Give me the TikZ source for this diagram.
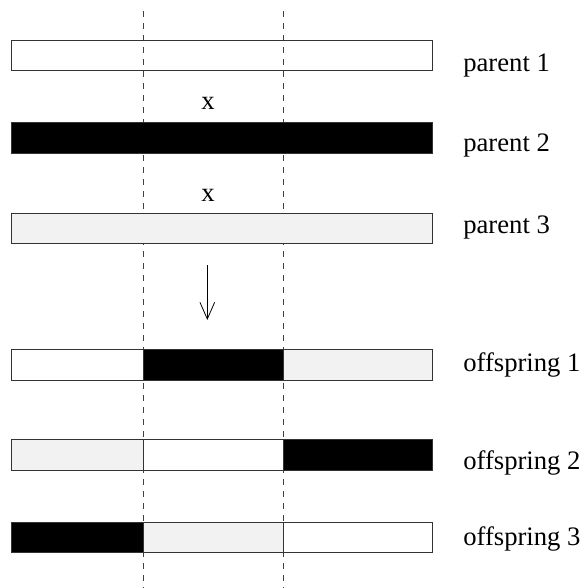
\documentclass[tikz,border=0pt]{standalone}
\usepackage{fontspec}
\setmainfont{Liberation Serif}
\usetikzlibrary{positioning, arrows.meta}

\begin{document}
\begin{tikzpicture}[x=0.75pt,y=-0.75pt,font=\fontsize{20}{24}\selectfont,
  bar/.style={draw=black!80,line width=0.75pt},
  cut/.style={draw=black!75,line width=0.75pt,dash pattern=on 4.5pt off 4.5pt},
  lab/.style={anchor=west,inner sep=0pt}]
\useasboundingbox (0,0) rectangle (583,588);
% crossover points
\coordinate (c1top) at (143,11); \coordinate (c1bot) at (143,588);
\coordinate (c2top) at (283,11); \coordinate (c2bot) at (283,588);
\draw[cut] (c1top)--(c1bot);
\draw[cut] (c2top)--(c2bot);
% parents
\draw[bar] (11.5,40.5) rectangle (432.5,70.5);
\draw[bar,fill=black] (11.5,123) rectangle (432.5,153.5);
\draw[bar,fill=gray!10] (11.5,213.5) rectangle (432.5,243.5);
\node[lab] (par1) at (463,66) {parent 1};
\node[lab] (par2) at (463,146) {parent 2};
\node[lab] (par3) at (463,227.5) {parent 3};
\node[inner sep=0pt] (x1) at (208,103) {x};
\node[inner sep=0pt] (x2) at (208,195) {x};
% arrow
\coordinate (atop) at (207.3,265); \coordinate (abot) at (207.3,320);
\draw[-{Straight Barb[length=12.5pt,width=11pt]},line width=0.6pt] (atop)--(abot);
% offspring
\foreach \y/\a/\b/\c/\ty [count=\i] in {349.5/white/black/gray!10/365,
  439.5/gray!10/white/black/463, 522/black/gray!10/white/539}{
  \draw[bar,fill=\a] (11.5,\y) rectangle (143,\y+30.5);
  \draw[bar,fill=\b] (143,\y) rectangle (283,\y+30.5);
  \draw[bar,fill=\c] (283,\y) rectangle (432.5,\y+30.5);
  \node[lab] (off\i) at (463,\ty) {offspring \i};
}
\end{tikzpicture}
\end{document}
